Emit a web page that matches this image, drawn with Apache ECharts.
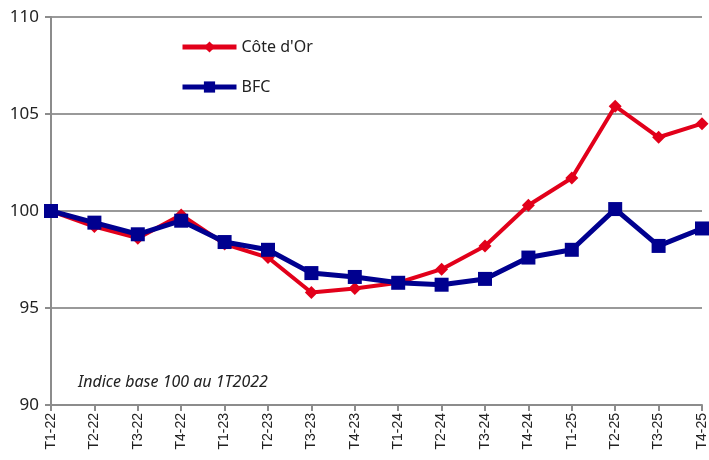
<!DOCTYPE html>
<html>
<head>
<meta charset="utf-8">
<script src="https://cdn.jsdelivr.net/npm/echarts@6/dist/echarts.min.js"></script>
<style>
    html, body { margin: 0; padding: 0; background: #fff; }
    #chart { width: 709px; height: 460px; }
</style>
</head>
<body>
<div id="chart"></div>
<script>
// trimestres
var categories = ['T1-22','T2-22','T3-22','T4-22','T1-23','T2-23','T3-23','T4-23',
                  'T1-24','T2-24','T3-24','T4-24','T1-25','T2-25','T3-25','T4-25'];
var coteDor = [100, 99.2, 98.6, 99.8, 98.3, 97.6, 95.8, 96.0, 96.3, 97.0, 98.2, 100.3, 101.7, 105.4, 103.8, 104.5];
var bfc     = [100, 99.4, 98.8, 99.5, 98.4, 98.0, 96.8, 96.6, 96.3, 96.2, 96.5, 97.6, 98.0, 100.1, 98.2, 99.1];
var yTicks = [90, 95, 100, 105, 110];

var chart = echarts.init(document.getElementById('chart'));
var option = {
    animation: false,
    backgroundColor: '#fff',
    grid: { left: 51, right: 7, top: 17, bottom: 55 },
    legend: {
        orient: 'vertical',
        left: 175, top: 34,
        itemWidth: 54, itemHeight: 14,
        itemGap: 24,
        textStyle: { fontFamily: 'Noto Sans', fontSize: 16, color: '#222' },
        data: [
            { name: "Côte d'Or", lineStyle: { width: 5 } },
            { name: 'BFC', lineStyle: { width: 5 } }
        ]
    },
    xAxis: {
        type: 'category',
        data: categories,
        boundaryGap: false,
        axisLine: { lineStyle: { color: '#8c8c8c', width: 2 } },
        axisTick: { show: true, length: 6, lineStyle: { color: '#8c8c8c', width: 2 } },
        axisLabel: { rotate: 90, fontFamily: 'Liberation Sans', fontSize: 14, color: '#222', margin: 8 }
    },
    yAxis: {
        type: 'value',
        min: yTicks[0], max: yTicks[yTicks.length - 1], interval: 5,
        axisLine: { show: true, lineStyle: { color: '#8c8c8c', width: 2 } },
        axisTick: { show: true, length: 6, lineStyle: { color: '#8c8c8c', width: 2 } },
        splitLine: { lineStyle: { color: '#999', width: 2 } },
        axisLabel: { fontFamily: 'Noto Sans', fontSize: 17, color: '#222', margin: 12 }
    },
    graphic: [{
        type: 'text',
        left: 78, top: 374,
        style: { text: 'Indice base 100 au 1T2022', font: 'italic 16px "Noto Sans"', fill: '#222' }
    }],
    series: [
        {
            name: "Côte d'Or",
            type: 'line',
            data: coteDor,
            symbol: 'diamond',
            symbolSize: 13,
            itemStyle: { color: '#e2001a' },
            lineStyle: { color: '#e2001a', width: 4 }
        },
        {
            name: 'BFC',
            type: 'line',
            data: bfc,
            symbol: 'rect',
            symbolSize: 14,
            itemStyle: { color: '#00008f' },
            lineStyle: { color: '#00008f', width: 5 }
        }
    ]
};
chart.setOption(option);
</script>
</body>
</html>
